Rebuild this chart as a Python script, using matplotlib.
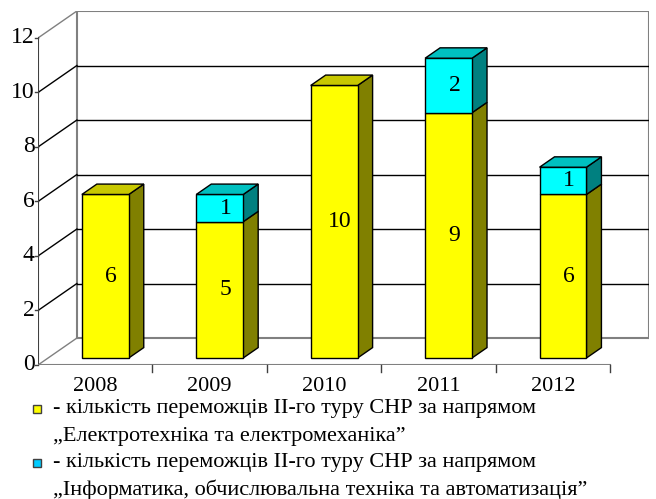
import numpy as np
import matplotlib.pyplot as plt
from matplotlib.patches import Polygon, Rectangle

# Дані
years = ['2008', '2009', '2010', '2011', '2012']
elektro = [6, 5, 10, 9, 6]
inform = [0, 1, 0, 2, 1]
yticks = [0, 2, 4, 6, 8, 10, 12]

legend_lines = [
    '- кількість переможців ІІ-го туру СНР за напрямом',
    '„Електротехніка та електромеханіка”',
    '- кількість переможців ІІ-го туру СНР за напрямом',
    '„Інформатика, обчислювальна техніка та автоматизація”',
]

plt.rcParams['font.family'] = ['Liberation Serif', 'DejaVu Serif']

# Параметри псевдо-3D (зсув глибини в одиницях даних)
DX, DY = 0.34, 0.99
d0, d1 = 0.26, 0.645      # передня та задня грань стовпчика
bw = 0.41                  # ширина стовпчика
ymax = 12

fig = plt.figure(figsize=(6.56, 4.99), dpi=100)
W, H = 656, 499
ax = fig.add_axes([38 / W, (H - 365) / H, (649 - 38) / W, (365 - 11) / H])
ax.set_xlim(0, 5 + DX)
ax.set_ylim(0, ymax + DY)
ax.axis('off')

grey = '#808080'
n = len(years)

# Задня стінка
ax.plot([DX, DX, n + DX, n + DX], [DY, ymax + DY, ymax + DY, DY], color=grey, lw=1.5, zorder=1)
ax.plot([DX, n + DX], [DY, DY], color=grey, lw=1.5, zorder=1)
for v in yticks[1:-1]:
    ax.plot([DX, n + DX], [v + DY, v + DY], color='black', lw=1, zorder=1)
# Бічна стінка
for v in yticks:
    c = grey if v in (0, ymax) else 'black'
    ax.plot([0, DX], [v, v + DY], color=c, lw=1, zorder=1)

# Осі
ax.plot([0, 0], [0, ymax], color='#404040', lw=1.5, zorder=5)
ax.plot([0, n], [0, 0], color=grey, lw=1.5, zorder=5)
for v in yticks:
    ax.plot([-0.03, 0], [v, v], color='#404040', lw=1, clip_on=False, zorder=5)
    ax.text(-0.03, v, str(v), ha='right', va='center', fontsize=17, clip_on=False)
for i in range(1, n + 1):
    ax.plot([i, i], [0, -0.25], color='#404040', lw=1, clip_on=False, zorder=5)
for i, y in enumerate(years):
    ax.text(i + 0.5, -0.45, y, ha='center', va='top', fontsize=16, clip_on=False)

# Стовпчики
def box(x0, b, h, front, top, side, draw_top):
    fx = x0 + d0 * DX
    fy = b + d0 * DY
    ddx = (d1 - d0) * DX
    ddy = (d1 - d0) * DY
    ax.add_patch(Polygon([(fx + bw, fy), (fx + bw + ddx, fy + ddy),
                          (fx + bw + ddx, fy + h + ddy), (fx + bw, fy + h)],
                         closed=True, fc=side, ec='black', lw=1, zorder=3))
    ax.add_patch(Rectangle((fx, fy), bw, h, fc=front, ec='black', lw=1, zorder=4))
    if draw_top:
        ax.add_patch(Polygon([(fx, fy + h), (fx + ddx, fy + h + ddy),
                              (fx + bw + ddx, fy + h + ddy), (fx + bw, fy + h)],
                             closed=True, fc=top, ec='black', lw=1, zorder=4))
    # підпис трохи правіше центру передньої грані, як в Excel
    return fx + bw / 2 + ddx * 0.4, fy + h / 2

for i in range(n):
    x0 = i + 0.5 - bw / 2
    cx, cy = box(x0, 0, elektro[i], '#FFFF00', '#C8C800', '#808000', inform[i] == 0)
    ax.text(cx, cy, str(elektro[i]), ha='center', va='center', fontsize=17, zorder=6)
    if inform[i] > 0:
        cx, cy = box(x0, elektro[i], inform[i], '#00FFFF', '#00C0C0', '#008080', True)
        ax.text(cx, cy, str(inform[i]), ha='center', va='center', fontsize=17, zorder=6)

# Легенда
ys = [409, 436, 463, 490]
for y, t in zip(ys, legend_lines):
    fig.text(53 / W, 1 - y / H, t, ha='left', va='center', fontsize=16)
for y, c in [(ys[0], '#FFFF00'), (ys[2], '#00CCFF')]:
    fig.patches.append(Rectangle((33 / W, 1 - (y + 4) / H), 8 / W, 8 / H,
                                 fc=c, ec='#404040', lw=1, transform=fig.transFigure, figure=fig))

fig.savefig('out.png', dpi=100)
